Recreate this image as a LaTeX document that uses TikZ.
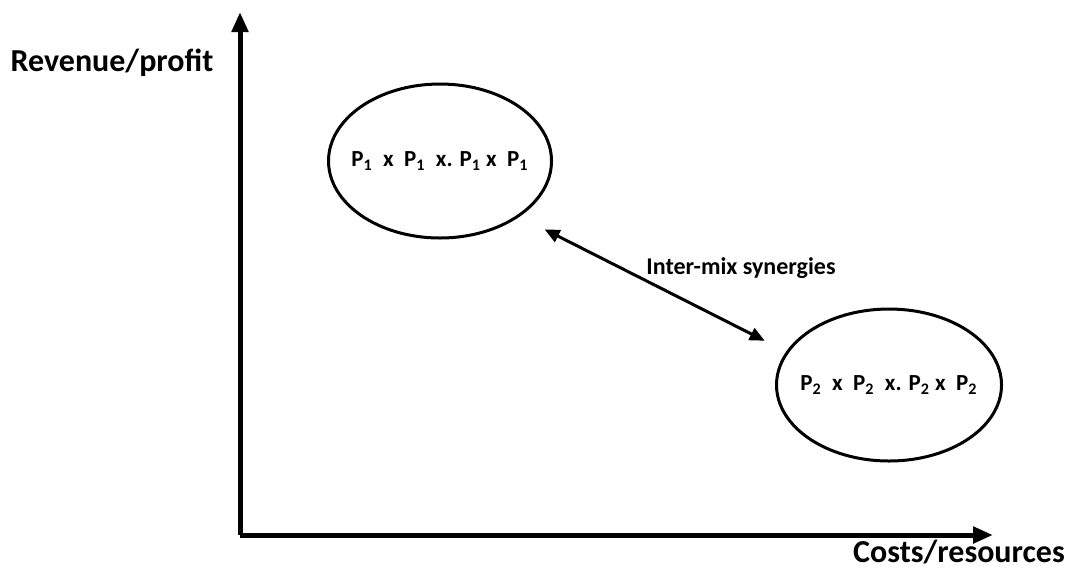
\documentclass[tikz,border=0pt]{standalone}
\usepackage{fontspec}
\setmainfont{Carlito}
\usetikzlibrary{shapes.geometric,arrows.meta}

\begin{document}
\begin{tikzpicture}[x=0.5pt,y=-0.5pt,font=\bfseries]
	\useasboundingbox (0,0) rectangle (1068,569);
	\tikzset{mix/.style={draw,ellipse,line width=1.5pt,inner xsep=-5pt,inner ysep=0pt,font=\bfseries\fontsize{11.5}{14}\selectfont},
		axislabel/.style={inner sep=0pt,font=\bfseries\fontsize{16}{18}\selectfont}}
	
	\coordinate (O) at (240,535);
	\coordinate (Ytop) at (240,12);
	\coordinate (Xend) at (993,535);
	\draw[line width=2.5pt,-{Triangle[length=10pt,width=8pt]}] (O) -- (Ytop);
	\draw[line width=2.5pt,-{Triangle[length=10pt,width=8pt]}] (O) -- (Xend);
	
	\node[axislabel] (ylab) at (112,63) {Revenue/profit};
	\node[axislabel] (xlab) at (959,552) {Costs/resources};
	
	\node[mix,minimum width=111.5pt,minimum height=77pt] (P1) at (440,161) {P\textsubscript{1}\ \ x\ \ P\textsubscript{1}\ \ x. P\textsubscript{1} x\ \ P\textsubscript{1}};
	\node[mix,minimum width=112.5pt,minimum height=76pt] (P2) at (889,385) {P\textsubscript{2}\ \ x\ \ P\textsubscript{2}\ \ x. P\textsubscript{2} x\ \ P\textsubscript{2}};
	
	\draw[line width=1.5pt,{Triangle[length=7.5pt,width=6.5pt]}-{Triangle[length=7.5pt,width=6.5pt]},shorten <=14pt,shorten >=12pt] (P1.-35) -- (P2.162);
	\node[font=\bfseries\fontsize{12}{14}\selectfont] (syn) at (741,268) {Inter-mix synergies};
	
\end{tikzpicture}
\end{document}
